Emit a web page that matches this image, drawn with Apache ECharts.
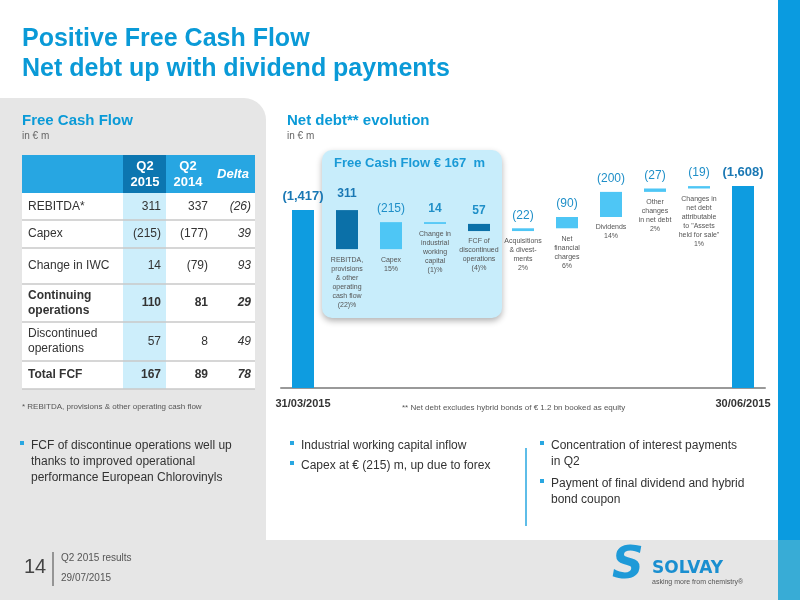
<!DOCTYPE html>
<html><head><meta charset="utf-8">
<script src="https://cdn.jsdelivr.net/npm/echarts@6/dist/echarts.min.js"></script>
<style>html,body{margin:0;padding:0;background:#fff}#c{width:800px;height:600px}</style>
</head><body><div id="c"></div>
<script>
// ---- data ----
const categories = ['31/03/2015','REBITDA','Capex','IWC','FCF disc','Acq','NetFin','Dividends','Other','Assets','30/06/2015'];
const deltaValues = [1417, 311, 215, 14, 57, 22, 90, 200, 27, 19, 1608];
const deltaDirection = ['total','down','up','down','down','up','up','up','up','up','total'];
const valueLabels = ['(1,417)','311','(215)','14','57','(22)','(90)','(200)','(27)','(19)','(1,608)'];
const descLabels = ['', 'REBITDA,\nprovisions\n& other\noperating\ncash flow\n(22)%', 'Capex\n15%', 'Change in\nindustrial\nworking\ncapital\n(1)%', 'FCF of\ndiscontinued\noperations\n(4)%', 'Acquisitions\n& divest-\nments\n2%', 'Net\nfinancial\ncharges\n6%', 'Dividends\n14%', 'Other\nchanges\nin net debt\n2%', 'Changes in\nnet debt\nattributable\nto "Assets\nheld for sale"\n1%', ''];
const tableHeader = ['', 'Q2\n2015', 'Q2\n2014', 'Delta'];
const tableRows = ['REBITDA*', 'Capex', 'Change in IWC', 'Continuing\noperations', 'Discontinued\noperations', 'Total FCF'];
const tableQ22015 = ['311', '(215)', '14', '110', '57', '167'];
const tableQ22014 = ['337', '(177)', '(79)', '81', '8', '89'];
const tableDelta = ['(26)', '39', '93', '29', '49', '78'];
const tableBold = [false, false, false, true, false, true];

// ---- waterfall computation ----
const base = [], vis = [];
let level = 0;
deltaValues.forEach((v, i) => {
  const d = deltaDirection[i];
  if (d === 'total') { base.push(0); vis.push(v); level = v; }
  else if (d === 'down') { level -= v; base.push(level); vis.push(v); }
  else { base.push(level); vis.push(v); level += v; }
});
const barColor = (i) => {
  if (deltaDirection[i] === 'total') return '#0e9ce0';
  if (i === 1 || i === 4) return '#0b70a8';
  return '#4ec6f5';
};

// ---- graphics ----
const g = [];
const BLUE = '#0a9ad7';
g.push({type:'rect', shape:{x:778,y:0,width:22,height:540}, style:{fill:'#0a9be0'}});
g.push({type:'rect', shape:{x:778,y:540,width:22,height:60}, style:{fill:'#38acd6'}});
g.push({type:'rect', shape:{x:0,y:540,width:778,height:60}, style:{fill:'#e6e6e6'}});
g.push({type:'rect', shape:{x:0,y:98,width:266,height:442,r:[0,22,0,0]}, style:{fill:'#e6e6e6'}});
g.push({type:'text', left:22, top:24, style:{text:'Positive Free Cash Flow\nNet debt up with dividend payments', font:'bold 25px "Liberation Sans", Arial', fill:BLUE, lineHeight:30}});
g.push({type:'text', left:22, top:113, style:{text:'Free Cash Flow', font:'bold 15px "Liberation Sans", Arial', fill:BLUE}});
g.push({type:'text', left:22, top:131, style:{text:'in € m', font:'10px "Liberation Sans", Arial', fill:'#666'}});
g.push({type:'text', left:287, top:113, style:{text:'Net debt** evolution', font:'bold 15px "Liberation Sans", Arial', fill:BLUE}});
g.push({type:'text', left:287, top:131, style:{text:'in € m', font:'10px "Liberation Sans", Arial', fill:'#666'}});
g.push({type:'rect', z:0, shape:{x:322,y:150,width:180,height:168,r:10}, style:{fill:'#c8edfb', shadowBlur:6, shadowOffsetY:3, shadowColor:'rgba(0,0,0,0.3)'}});
g.push({type:'text', z:1, left:334, top:157, style:{text:'Free Cash Flow € 167  m', font:'bold 13px "Liberation Sans", Arial', fill:'#1a9ad6'}});

const tx = 22, tw = 233;
const rowY = [193, 220, 248, 284, 322, 361, 389];
g.push({type:'rect', shape:{x:tx,y:155,width:tw,height:38}, style:{fill:'#27a6e2'}});
g.push({type:'rect', shape:{x:tx,y:193,width:tw,height:196}, style:{fill:'#fff'}});
g.push({type:'rect', shape:{x:123,y:155,width:43,height:38}, style:{fill:'#0c76b0'}});
g.push({type:'rect', shape:{x:123,y:193,width:43,height:196}, style:{fill:'#cdeefb'}});
g.push({type:'text', style:{x:145,y:174,text:tableHeader[1],align:'center',verticalAlign:'middle',font:'bold 13px "Liberation Sans", Arial',fill:'#fff',lineHeight:16}});
g.push({type:'text', style:{x:188,y:174,text:tableHeader[2],align:'center',verticalAlign:'middle',font:'bold 13px "Liberation Sans", Arial',fill:'#fff',lineHeight:16}});
g.push({type:'text', style:{x:233,y:174,text:tableHeader[3],align:'center',verticalAlign:'middle',font:'italic bold 13px "Liberation Sans", Arial',fill:'#fff'}});
tableRows.forEach((r, i) => {
  const yc = (rowY[i] + rowY[i+1]) / 2;
  const f = (tableBold[i] ? 'bold ' : '') + '12px "Liberation Sans", Arial';
  g.push({type:'line', shape:{x1:tx,y1:rowY[i+1],x2:tx+tw,y2:rowY[i+1]}, style:{stroke:'#c8c8c8',lineWidth:1.5}});
  g.push({type:'text', style:{x:28,y:yc,text:r,verticalAlign:'middle',font:f,fill:'#333',lineHeight:15}});
  g.push({type:'text', style:{x:161,y:yc,text:tableQ22015[i],align:'right',verticalAlign:'middle',font:f,fill:'#333'}});
  g.push({type:'text', style:{x:208,y:yc,text:tableQ22014[i],align:'right',verticalAlign:'middle',font:f,fill:'#333'}});
  g.push({type:'text', style:{x:251,y:yc,text:tableDelta[i],align:'right',verticalAlign:'middle',font:'italic '+f,fill:'#333'}});
});
g.push({type:'text', left:22, top:403, style:{text:'* REBITDA, provisions & other operating cash flow', font:'8px "Liberation Sans", Arial', fill:'#555'}});
g.push({type:'text', left:402, top:404, style:{text:'** Net debt excludes hybrid bonds of € 1.2 bn booked as equity', font:'8px "Liberation Sans", Arial', fill:'#555'}});
const bullet = (x, y, text) => {
  g.push({type:'rect', shape:{x:x,y:y+3,width:4,height:4}, style:{fill:'#29a7e1'}});
  g.push({type:'text', style:{x:x+11,y:y,text:text,font:'12px "Liberation Sans", Arial',fill:'#333',lineHeight:16}});
};
bullet(20, 438, 'FCF of discontinue operations well up\nthanks to improved operational\nperformance European Chlorovinyls');
bullet(290, 438, 'Industrial working capital inflow');
bullet(290, 458, 'Capex at € (215) m, up due to forex');
g.push({type:'line', shape:{x1:526,y1:448,x2:526,y2:526}, style:{stroke:'#29a7e1',lineWidth:1.5}});
bullet(540, 438, 'Concentration of interest payments\nin Q2');
bullet(540, 476, 'Payment of final dividend and hybrid\nbond coupon');
g.push({type:'text', style:{x:24,y:557,text:'14',font:'20px "Liberation Sans", Arial',fill:'#444'}});
g.push({type:'line', shape:{x1:53,y1:552,x2:53,y2:586}, style:{stroke:'#444',lineWidth:1}});
g.push({type:'text', style:{x:61,y:553,text:'Q2 2015 results',font:'10px "Liberation Sans", Arial',fill:'#555'}});
g.push({type:'text', style:{x:61,y:573,text:'29/07/2015',font:'10px "Liberation Sans", Arial',fill:'#555'}});
g.push({type:'text', style:{x:612,y:545,text:'S',font:'italic bold 44px "DejaVu Sans"',fill:'#1e9ad8'}});
g.push({type:'text', style:{x:652,y:560,text:'SOLVAY',font:'bold 17px "DejaVu Sans"',fill:'#1a8fd0'}});
g.push({type:'text', style:{x:652,y:579,text:'asking more from chemistry®',font:'7px "Liberation Sans", Arial',fill:'#555'}});

const labelFor = (i) => {
  if (deltaDirection[i] === 'total') return {fontSize:13, fontWeight:'bold', color:'#1a78b4'};
  if (i === 1) return {fontWeight:'bold', color:'#1a78b4', distance:10};
  if (i === 3 || i === 4) return {fontWeight:'bold'};
  return {};
};

const chart = echarts.init(document.getElementById('c'));
chart.setOption({
  animation:false,
  graphic:{elements:g},
  grid:{left:281, width:484, top:162, bottom:212},
  xAxis:{type:'category', data:categories,
    axisLine:{lineStyle:{color:'#999',width:2}}, axisTick:{show:false},
    axisLabel:{interval:0, margin:10, fontWeight:'bold', fontSize:11, color:'#333', fontFamily:'Liberation Sans',
      formatter:(v,i)=> (i===0||i===categories.length-1)? v : ''}},
  yAxis:{type:'value', min:0, max:1800, show:false},
  series:[
    {type:'bar', stack:'w', barWidth:22, z:3, data:base, itemStyle:{color:'transparent'},
      label:{show:true, position:'insideTop', distance:6, color:'#555', fontSize:7, lineHeight:9, fontFamily:'Liberation Sans',
        formatter:(p)=>descLabels[p.dataIndex]}},
    {type:'bar', stack:'w', barWidth:22, z:3,
      data:vis.map((v,i)=>({value:v, itemStyle:{color:barColor(i)}, label:labelFor(i)})),
      label:{show:true, position:'top', distance:7, fontFamily:'Liberation Sans',
        formatter:(p)=>valueLabels[p.dataIndex], color:'#1f8fc8', fontSize:12}}
  ]
});
</script></body></html>
